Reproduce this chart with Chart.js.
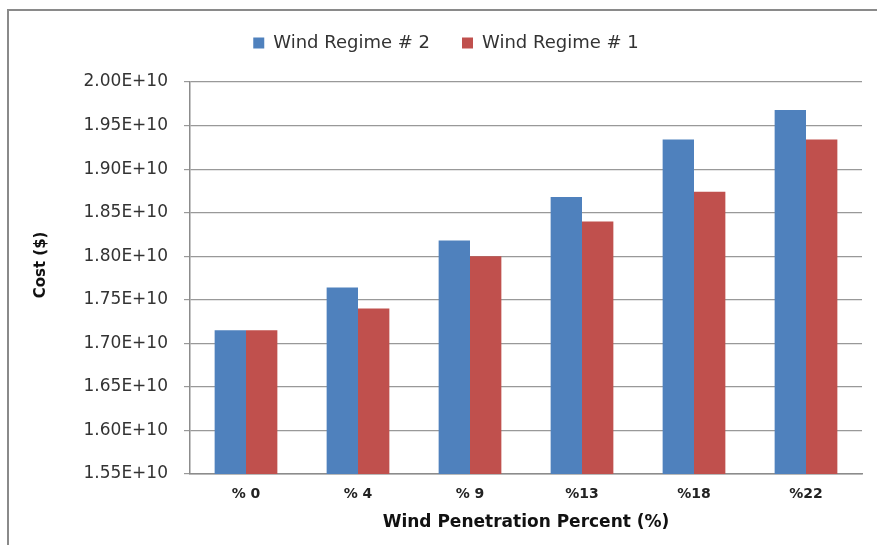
<!DOCTYPE html>
<html>
<head>
<meta charset="utf-8">
<script src="https://cdn.jsdelivr.net/npm/chart.js@4/dist/chart.umd.min.js"></script>
<style>
  body { margin: 0; background: #fff; }
  #wrap { position: relative; width: 877px; height: 545px; overflow: hidden; }
  #frame { position: absolute; left: 7px; top: 9px; width: 900px; height: 600px;
           border-left: 2px solid #8a8a8a; border-top: 2px solid #8a8a8a; }
  canvas { position: absolute; left: 0; top: 0; }
</style>
</head>
<body>
<div id="wrap">
  <div id="frame"></div>
  <canvas id="chartjs-0" width="877" height="545"></canvas>
</div>
<script>
// values
let categories = ["% 0", "% 4", "% 9", "%13", "%18", "%22"];
let regime2 = [1.715e10, 1.764e10, 1.818e10, 1.868e10, 1.934e10, 1.968e10];
let regime1 = [1.715e10, 1.740e10, 1.800e10, 1.840e10, 1.874e10, 1.934e10];
let seriesNames = ["Wind Regime # 2", "Wind Regime # 1"];
let yMin = 1.55e10;
let yMax = 2.00e10;
let yStep = 0.05e10;

// push the plot down a bit below the legend
var legendGap = {
    id: "legendGap",
    beforeInit: function (chart) {
        var origFit = chart.legend.fit;
        chart.legend.fit = function () {
            origFit.bind(chart.legend)();
            this.height += 20;
        };
    }
};

var ctx = document.getElementById("chartjs-0");
var myChart = new Chart(ctx, {
    type: "bar",
    data: {
        labels: categories,
        datasets: [{
            label: seriesNames[0],
            data: regime2,
            backgroundColor: "#4F81BD"
        }, {
            label: seriesNames[1],
            data: regime1,
            backgroundColor: "#C0504D"
        }]
    },
    options: {
        responsive: false,
        animation: false,
        layout: { padding: { left: 30, right: 15, top: 2, bottom: 12 } },
        datasets: { bar: { categoryPercentage: 0.56, barPercentage: 1.0 } },
        plugins: {
            tooltip: { enabled: false },
            legend: {
                position: "top",
                labels: {
                    font: { family: "DejaVu Sans", size: 18 },
                    color: "#333",
                    boxWidth: 11,
                    boxHeight: 11,
                    padding: 32
                }
            }
        },
        scales: {
            x: {
                grid: { display: false },
                border: { display: true, color: "#8c8c8c", width: 1.5 },
                ticks: {
                    font: { family: "DejaVu Sans", size: 14, weight: "bold" },
                    color: "#222",
                    padding: 4
                },
                title: {
                    display: true,
                    text: "Wind Penetration Percent (%)",
                    font: { family: "DejaVu Sans", size: 17, weight: "bold" },
                    color: "#111",
                    padding: { top: 4, bottom: 0 }
                },
                afterFit: function (scale) { scale.height = 59; }
            },
            y: {
                min: yMin,
                max: yMax,
                grid: { color: "#999", lineWidth: 1.2, tickLength: 6 },
                border: { display: true, color: "#8c8c8c", width: 1.5 },
                ticks: {
                    stepSize: yStep,
                    font: { family: "DejaVu Sans", size: 17 },
                    color: "#333",
                    padding: 16,
                    callback: function (v) { return Number(v).toExponential(2).toUpperCase(); }
                },
                title: {
                    display: true,
                    text: "     Cost ($)",
                    font: { family: "DejaVu Sans", size: 15, weight: "bold" },
                    color: "#111",
                    padding: { top: 2, bottom: 0 }
                },
                afterFit: function (scale) { scale.width = 160; }
            }
        }
    },
    plugins: [legendGap]
});
</script>
</body>
</html>
